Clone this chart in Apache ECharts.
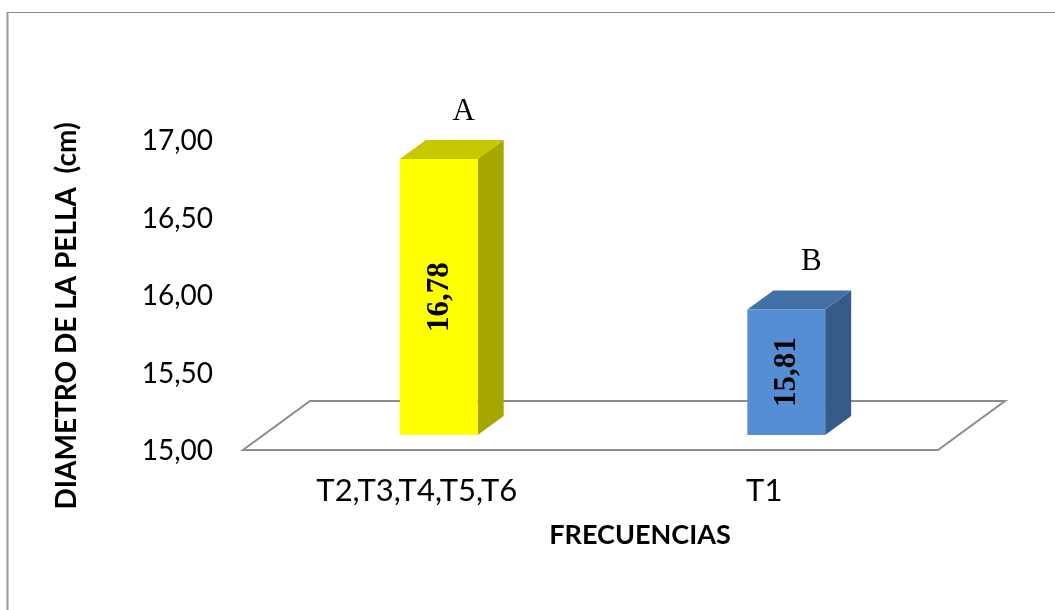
<!DOCTYPE html>
<html>
<head>
<meta charset="utf-8">
<script src="https://cdn.jsdelivr.net/npm/echarts@6/dist/echarts.min.js"></script>
<style>
  html, body { margin: 0; padding: 0; background: #fff; }
  #chart { width: 1055px; height: 610px; }
</style>
</head>
<body>
<div id="chart"></div>
<script>
// Diámetro de la pella por frecuencia
const categories = ['T2,T3,T4,T5,T6', 'T1'];
const diameters = [16.78, 15.81];
const groupLetters = ['A', 'B'];
const yTicks = { min: 15, max: 17, step: 0.5 };

const faceColors = [
  { front: '#FFFF00', top: '#C8C800', side: '#A6A600' },
  { front: '#558ED5', top: '#4470A8', side: '#365B8A' }
];

// 3D look: front plane of bars sits behind the floor's front edge
const FLOOR_DEPTH = [67, -49];
const BAR_SHIFT = [22, -16];
const BAR_DEPTH = [26, -19];
const BAR_RATIO = 0.224;

const chart = echarts.init(document.getElementById('chart'), null, { renderer: 'canvas' });

function fmt(v) { return v.toFixed(2).replace('.', ','); }

function renderFloor(params) {
  const cs = params.coordSys;
  const x0 = cs.x, x1 = cs.x + cs.width, y0 = cs.y + cs.height - 1;
  return {
    type: 'polygon',
    shape: { points: [[x0, y0], [x1, y0], [x1 + FLOOR_DEPTH[0], y0 + FLOOR_DEPTH[1]], [x0 + FLOOR_DEPTH[0], y0 + FLOOR_DEPTH[1]]] },
    style: { fill: '#fff', stroke: '#8C8C8C', lineWidth: 2 }
  };
}

function renderBar(params, api) {
  const idx = params.dataIndex;
  const cat = api.value(0);
  const val = api.value(1);
  const base = api.coord([cat, yTicks.min]);
  const top = api.coord([cat, val]);
  const band = api.size([1, 0])[0];
  const w = band * BAR_RATIO;
  const cx = base[0] + BAR_SHIFT[0];
  const xl = cx - w / 2, xr = cx + w / 2;
  const yb = base[1] + BAR_SHIFT[1];
  const yt = top[1] + BAR_SHIFT[1];
  const dx = BAR_DEPTH[0], dy = BAR_DEPTH[1];
  const c = faceColors[idx];
  return {
    type: 'group',
    children: [
      { type: 'polygon', shape: { points: [[xr, yb], [xr + dx, yb + dy], [xr + dx, yt + dy], [xr, yt]] }, style: { fill: c.side } },
      { type: 'polygon', shape: { points: [[xl, yt], [xr, yt], [xr + dx, yt + dy], [xl + dx, yt + dy]] }, style: { fill: c.top } },
      { type: 'rect', shape: { x: xl, y: yt, width: w, height: yb - yt }, style: { fill: c.front } },
      {
        type: 'text', x: cx + 1, y: (yt + yb) / 2, rotation: Math.PI / 2,
        style: { text: fmt(val), font: 'bold 31px "Liberation Serif", "Times New Roman", serif', fill: '#000', align: 'center', verticalAlign: 'middle' }
      },
      {
        type: 'text', x: cx + dx / 2 + 12, y: yt + dy / 2 - 38,
        style: { text: groupLetters[idx], font: '31px "Liberation Serif", "Times New Roman", serif', fill: '#000', align: 'center', verticalAlign: 'middle' }
      }
    ]
  };
}

const option = {
  backgroundColor: '#fff',
  animation: false,
  grid: { left: 243, right: 117, top: 141, bottom: 159 },
  xAxis: {
    type: 'category',
    data: categories,
    axisLine: { show: false },
    axisTick: { show: false },
    axisLabel: { margin: 24, fontFamily: 'Lato', fontSize: 31, color: '#000' }
  },
  yAxis: {
    type: 'value',
    min: yTicks.min, max: yTicks.max, interval: yTicks.step,
    axisLine: { show: false },
    axisTick: { show: false },
    splitLine: { show: false },
    axisLabel: { margin: 30, fontFamily: 'Lato', fontSize: 28, color: '#000', formatter: fmt }
  },
  graphic: [
    { type: 'line', shape: { x1: 7.5, y1: 12, x2: 7.5, y2: 610 }, style: { stroke: '#999', lineWidth: 2 } },
    { type: 'line', shape: { x1: 7, y1: 12.5, x2: 1055, y2: 12.5 }, style: { stroke: '#888', lineWidth: 1 } },
    {
      type: 'text', x: 67, y: 316, rotation: Math.PI / 2,
      style: { text: 'DIAMETRO DE LA PELLA  (cm)', font: 'bold 28px Lato', fill: '#000', align: 'center', verticalAlign: 'middle' }
    },
    {
      type: 'text', x: 640, y: 535,
      style: { text: 'FRECUENCIAS', font: 'bold 27px Lato', fill: '#000', align: 'center', verticalAlign: 'middle' }
    }
  ],
  series: [
    { type: 'custom', renderItem: renderFloor, data: [[0]], z: 1, silent: true },
    {
      type: 'custom', renderItem: renderBar, z: 2,
      encode: { x: 0, y: 1 },
      data: categories.map((c, i) => [i, diameters[i]])
    }
  ]
};

chart.setOption(option);
</script>
</body>
</html>
